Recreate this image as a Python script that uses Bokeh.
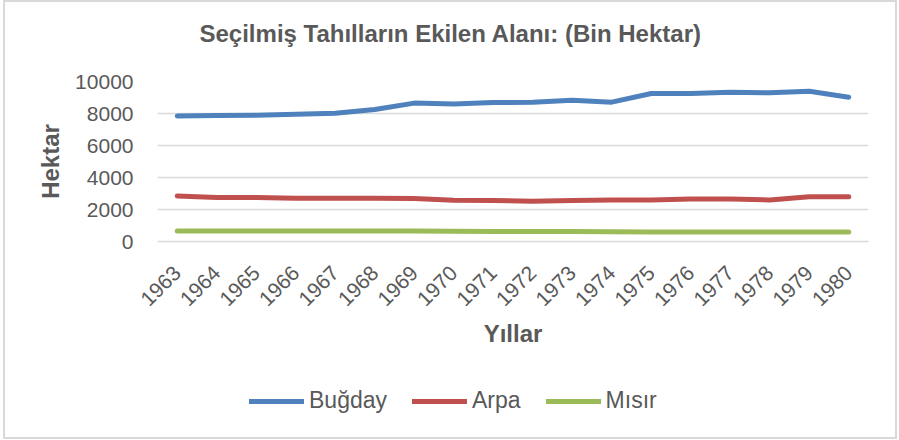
from bokeh.plotting import figure
from bokeh.models import Range1d, FixedTicker, Legend, LegendItem, NumeralTickFormatter, ColumnDataSource
from bokeh.layouts import column
from bokeh.embed import file_html
from bokeh.resources import INLINE
import math

years = list(range(1963, 1981))
bugday = [7850, 7880, 7890, 7960, 8020, 8250, 8650, 8600, 8680, 8710, 8830, 8710, 9250, 9250, 9330, 9290, 9390, 9020]
arpa = [2850, 2750, 2750, 2710, 2710, 2710, 2690, 2580, 2560, 2520, 2560, 2600, 2600, 2650, 2650, 2600, 2790, 2790]
misir = [650, 650, 650, 650, 650, 650, 650, 640, 620, 620, 620, 610, 590, 590, 590, 590, 590, 590]
series_names = ["Buğday", "Arpa", "Mısır"]
colors = ["#4f81bd", "#c0504d", "#9bbb59"]
y_ticks = [0, 2000, 4000, 6000, 8000, 10000]
title_text = "Seçilmiş Tahılların Ekilen Alanı: (Bin Hektar)"

FONT = "Liberation Sans"
GRAY = "#595959"
W = 890

src = ColumnDataSource(dict(x=years, b=bugday, a=arpa, m=misir))
cols = ["b", "a", "m"]


def blank(fig):
    fig.grid.visible = False
    fig.outline_line_color = None
    fig.background_fill_color = "white"
    fig.border_fill_color = "white"


# --- title strip (its frame is aligned with the chart frame by the column) ---
tf = figure(width=W, height=62, output_backend="svg", toolbar_location=None,
            x_axis_location=None, y_axis_location=None,
            min_border_left=0, min_border_right=0, min_border_top=0, min_border_bottom=0)
blank(tf)
tf.title.text = title_text
tf.title.align = "left"
tf.title.offset = 42
tf.title.standoff = 30
tf.title.text_font = FONT
tf.title.text_font_size = "24px"
tf.title.text_font_style = "bold"
tf.title.text_color = GRAY

# --- main chart ---
p = figure(width=W, height=17 + 160 + 115, output_backend="svg", toolbar_location=None,
           x_range=Range1d(years[0] - 0.5, years[-1] + 0.5), y_range=Range1d(0, 10000),
           min_border_left=152, min_border_right=27, min_border_top=17, min_border_bottom=115)
p.outline_line_color = None
p.background_fill_color = "white"
p.border_fill_color = "white"

for col, c in zip(cols, colors):
    p.line("x", col, source=src, line_color=c, line_width=5, line_cap="round", line_join="round")

p.xgrid.grid_line_color = None
p.ygrid.grid_line_color = "#d9d9d9"
p.ygrid.grid_line_width = 1.5

p.yaxis.ticker = FixedTicker(ticks=y_ticks)
p.yaxis.formatter = NumeralTickFormatter(format="0")
p.xaxis.ticker = FixedTicker(ticks=years)
for ax in (p.xaxis[0], p.yaxis[0]):
    ax.major_tick_line_color = None
    ax.minor_tick_line_color = None
    ax.major_tick_out = 0
    ax.major_tick_in = 0
    ax.major_label_text_font = FONT
    ax.major_label_text_font_size = "21px"
    ax.major_label_text_color = GRAY
    ax.axis_label_text_font = FONT
    ax.axis_label_text_font_size = "24px"
    ax.axis_label_text_font_style = "bold"
    ax.axis_label_text_color = GRAY
p.yaxis.axis_line_color = None
p.yaxis.major_label_standoff = 24
p.yaxis.axis_label = "Hektar"
p.yaxis.axis_label_standoff = 8
p.xaxis.axis_line_color = "#d9d9d9"
p.xaxis.axis_line_width = 1.5
p.xaxis.major_label_orientation = math.pi / 4
p.xaxis.major_label_standoff = 28
p.xaxis.axis_label = "Yıllar"
p.xaxis.axis_label_standoff = 5

# --- legend strip: same series, ranges put the lines out of view, only the legend shows ---
lf = figure(width=W, height=81, output_backend="svg", toolbar_location=None,
            x_axis_location=None, y_axis_location=None,
            x_range=Range1d(0, 1), y_range=Range1d(0, 1),
            min_border_left=0, min_border_right=0, min_border_top=0, min_border_bottom=0)
blank(lf)
leg_renderers = [lf.line("x", col, source=src, line_color=c, line_width=5, line_cap="round")
                 for col, c in zip(cols, colors)]
legend = Legend(items=[LegendItem(label=n, renderers=[r]) for n, r in zip(series_names, leg_renderers)],
                location=(92, 23), orientation="horizontal", glyph_width=55, glyph_height=26,
                label_standoff=5, spacing=25, padding=0, margin=0,
                label_text_font=FONT, label_text_font_size="23px", label_text_color=GRAY,
                border_line_color=None, background_fill_alpha=0)
lf.add_layout(legend, "center")

layout = column(tf, p, lf, spacing=0)
layout.styles = {"border": "2px solid #d9d9d9", "margin-left": "3px"}

open("out.html", "w").write(file_html(layout, INLINE))
